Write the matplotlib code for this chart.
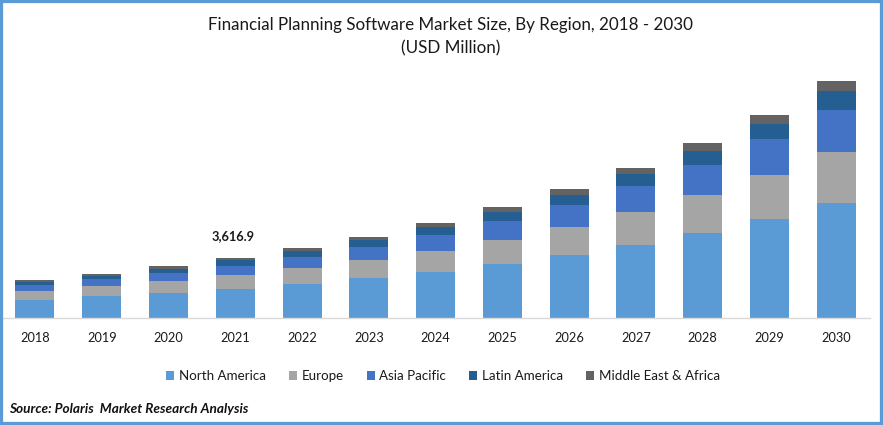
import matplotlib
matplotlib.use("Agg")
import matplotlib.pyplot as plt
from matplotlib.patches import Rectangle

plt.rcParams['font.family'] = ['Lato', 'DejaVu Sans']

years = ['2018','2019','2020','2021','2022','2023','2024','2025','2026','2027','2028','2029','2030']
north_america = [1085,1327,1508,1749,2050,2412,2774,3256,3799,4402,5126,5970,6935]
europe = [543,603,724,844,965,1085,1266,1447,1688,1990,2291,2653,3075]
asia_pacific = [362,422,482,543,663,784,965,1146,1327,1568,1809,2171,2533]
latin_america = [181,181,223,362,362,422,482,543,603,724,844,905,1146]
mea = [121,121,199,121,181,181,241,302,362,362,482,543,603]
series = [('North America', north_america, '#5B9BD5'),
          ('Europe', europe, '#A5A5A5'),
          ('Asia Pacific', asia_pacific, '#4472C4'),
          ('Latin America', latin_america, '#255E91'),
          ('Middle East & Africa', mea, '#636363')]
annotation_year = '2021'
annotation_text = '3,616.9'
title = 'Financial Planning Software Market Size, By Region, 2018 - 2030\n(USD Million)'
source = 'Source: Polaris  Market Research Analysis'

W, H = 883, 425
fig = plt.figure(figsize=(W/100, H/100), dpi=100)
fig.patch.set_facecolor('white')
ax = fig.add_axes([1.6/W, 1-318/H, 868/W, 270/H])
bottom = [0]*len(years)
xs = list(range(len(years)))
for name, vals, col in series:
    ax.bar(xs, vals, bottom=bottom, width=39/66.75, color=col, label=name, linewidth=0)
    bottom = [b+v for b, v in zip(bottom, vals)]
ax.set_xlim(-0.5, 12.5)
ax.set_ylim(0, 270*60.3)
ax.set_yticks([])
ax.set_xticks(xs, years, fontsize=9.2, color='#1a1a1a')
ax.tick_params(axis='x', length=0, pad=10)
for s in ['top','left','right']:
    ax.spines[s].set_visible(False)
ax.spines['bottom'].set_color('#D9D9D9')
ax.spines['bottom'].set_linewidth(1.0)
ax.set_facecolor('none')

i = years.index(annotation_year)
ax.text(i-0.03, bottom[i]+ 15.5*60.3, annotation_text, ha='center', va='bottom', fontsize=9.3, fontweight='bold', color='#1a1a1a')

fig.text(450.5/W, 1-37/H, title, ha='center', va='center', fontsize=12.25, color='#1a1a1a', linespacing=1.55)

handles, labels = ax.get_legend_handles_labels()
fig.legend(handles, labels, loc='center', bbox_to_anchor=(443/W, 1-376/H), ncol=5, frameon=False,
           fontsize=9.6, handlelength=0.62, handleheight=0.62, handletextpad=0.35, columnspacing=1.7, labelcolor='#1a1a1a')

fig.text(9.5/W, 1-409/H, source, ha='left', va='center', fontsize=9.8, fontweight='bold', style='italic', color='#111111')

fig.add_artist(Rectangle((0, 0), 1, 1, transform=fig.transFigure, fill=False, edgecolor='#5B9BD5', linewidth=4.5))
fig.savefig('out.png', dpi=100)
